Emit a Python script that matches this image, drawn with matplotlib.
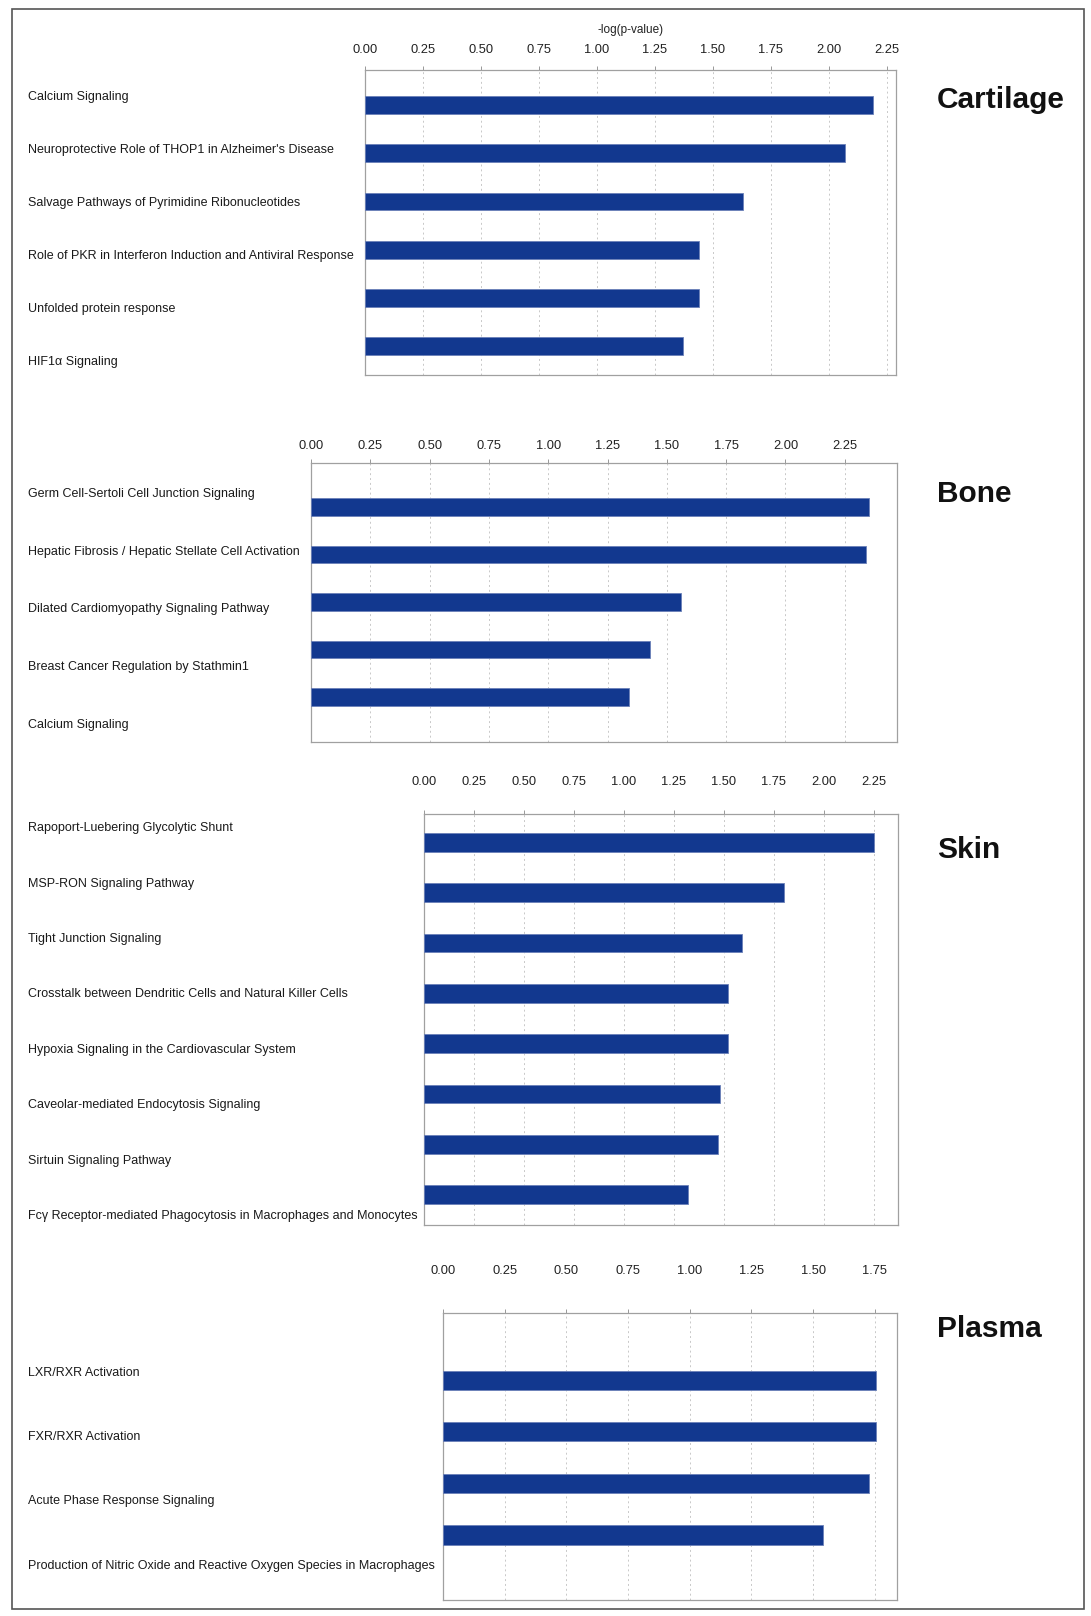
import numpy as np
import matplotlib
matplotlib.use("Agg")
from matplotlib import pyplot as plt
from matplotlib import transforms
from matplotlib.patches import Rectangle

# pathways and -log(p-value) per tissue
cartilage_paths = ['Calcium Signaling',
                   "Neuroprotective Role of THOP1 in Alzheimer's Disease",
                   'Salvage Pathways of Pyrimidine Ribonucleotides',
                   'Role of PKR in Interferon Induction and Antiviral Response',
                   'Unfolded protein response',
                   'HIF1α Signaling']
cartilage_vals = [2.19, 2.07, 1.63, 1.44, 1.44, 1.37]

bone_paths = ['Germ Cell-Sertoli Cell Junction Signaling',
              'Hepatic Fibrosis / Hepatic Stellate Cell Activation',
              'Dilated Cardiomyopathy Signaling Pathway',
              'Breast Cancer Regulation by Stathmin1',
              'Calcium Signaling']
bone_vals = [2.35, 2.34, 1.56, 1.43, 1.34]

skin_paths = ['Rapoport-Luebering Glycolytic Shunt',
              'MSP-RON Signaling Pathway',
              'Tight Junction Signaling',
              'Crosstalk between Dendritic Cells and Natural Killer Cells',
              'Hypoxia Signaling in the Cardiovascular System',
              'Caveolar-mediated Endocytosis Signaling',
              'Sirtuin Signaling Pathway',
              'Fcγ Receptor-mediated Phagocytosis in Macrophages and Monocytes']
skin_vals = [2.25, 1.80, 1.59, 1.52, 1.52, 1.48, 1.47, 1.32]

plasma_paths = ['LXR/RXR Activation',
                'FXR/RXR Activation',
                'Acute Phase Response Signaling',
                'Production of Nitric Oxide and Reactive Oxygen Species in Macrophages']
plasma_vals = [1.755, 1.755, 1.725, 1.54]

tissues = ['Cartilage', 'Bone', 'Skin', 'Plasma']

W, H = 1091, 1616
fig = plt.figure(figsize=(W / 100, H / 100), dpi=100)
plt.rcParams['font.family'] = ['Liberation Sans', 'DejaVu Sans']

# frame round the whole figure
fig.patches.append(Rectangle((12 / W, 1 - 1609 / H), 1072 / W, 1600 / H,
                             transform=fig.transFigure, fill=False,
                             edgecolor='#555555', linewidth=1.2))

BAR = '#12388f'


def panel(paths, vals, box, xmax, ticks, ylim, lab_off, lab_step, lab_y, name, name_y):
    left, right, top, bottom = box
    ax = fig.add_axes([left / W, 1 - bottom / H, (right - left) / W, (bottom - top) / H])
    y = np.arange(len(vals))
    ax.barh(y, vals, height=0.37, color=BAR, edgecolor='#6b80b8', linewidth=0.6, zorder=3)
    ax.set_xlim(0, xmax)
    ax.set_ylim(*ylim)
    ax.set_xticks(ticks)
    ax.set_xticklabels(['%.2f' % t for t in ticks])
    ax.xaxis.set_ticks_position('top')
    ax.set_yticks([])
    gap = top - lab_y - 6 - 4
    ax.tick_params(axis='x', top=True, bottom=False, labeltop=True, labelbottom=False,
                   length=3, width=0.6, color='#888888', labelsize=9.3, pad=gap / 1.389,
                   labelcolor='#222222')
    ax.grid(axis='x', linestyle=(0, (2, 3)), color='#c8c8c8', linewidth=0.7, zorder=0)
    for s in ax.spines.values():
        s.set_color('#a0a0a0')
        s.set_linewidth(0.9)
    tr = transforms.blended_transform_factory(fig.transFigure, ax.transData)
    for i, p in enumerate(paths):
        ax.text(28 / W, lab_off + i * lab_step, p, transform=tr, fontsize=9.0,
                ha='left', va='center', color='#1a1a1a', clip_on=False)
    fig.text(937 / W, 1 - name_y / H, name, fontsize=21.5, fontweight='bold',
             ha='left', va='center', color='#111111')
    return ax


t225 = np.arange(0, 2.26, 0.25)
t175 = np.arange(0, 1.76, 0.25)

ax1 = panel(cartilage_paths, cartilage_vals, (365, 896, 70, 375), 2.29, t225,
            (5.6, -0.73), -0.17, 1.10, 50, tissues[0], 100)
ax1.set_xlabel('-log(p-value)', fontsize=8.5, color='#222222', labelpad=8)
ax1.xaxis.set_label_position('top')

panel(bone_paths, bone_vals, (311, 897, 463, 742), 2.47, t225,
      (4.95, -0.93), -0.27, 1.213, 446, tissues[1], 494)

panel(skin_paths, skin_vals, (424, 898, 814, 1225), 2.37, t225,
      (7.6, -0.56), -0.28, 1.10, 782, tissues[2], 850)

panel(plasma_paths, plasma_vals, (443, 897, 1313, 1600), 1.84, t175,
      (4.26, -1.3), -0.14, 1.244, 1271, tissues[3], 1329)

fig.savefig('out.png', dpi=100, facecolor='white')
